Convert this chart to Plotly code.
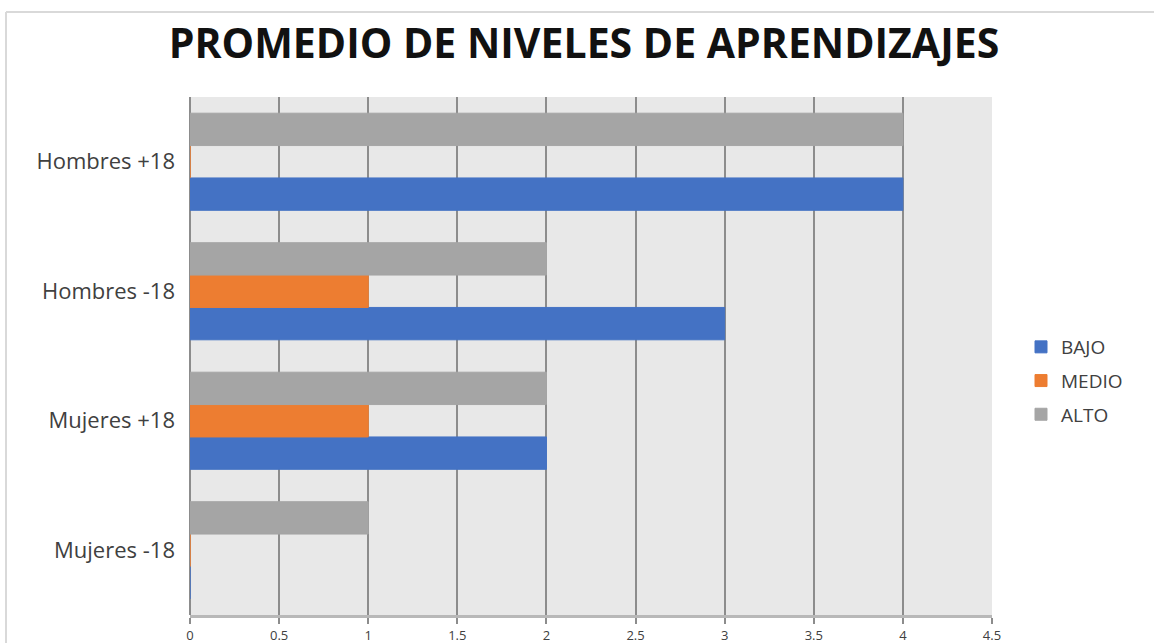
import plotly.graph_objects as go

categories = ["Mujeres -18", "Mujeres +18", "Hombres -18", "Hombres +18"]
bajo = [0, 2, 3, 4]
medio = [0, 1, 1, 0]
alto = [1, 2, 2, 4]
series_names = ["BAJO", "MEDIO", "ALTO"]
colors = ["#4472C4", "#ED7D31", "#A5A5A5"]
tick_vals = [0, 0.5, 1, 1.5, 2, 2.5, 3, 3.5, 4, 4.5]

FONT = "Open Sans"

fig = go.Figure()
for name, vals, col in zip(series_names, [bajo, medio, alto], colors):
    fig.add_trace(go.Bar(
        y=categories, x=vals, name=name, orientation="h", legendgroup=name,
        marker=dict(color=col, line=dict(color=col, width=1)),
    ))

fig.update_layout(
    width=1154, height=643,
    margin=dict(l=190, r=162, t=97, b=28, autoexpand=False),
    paper_bgcolor="white",
    plot_bgcolor="#E8E8E8",
    barmode="group", bargap=0.25, bargroupgap=0,
    font=dict(family=FONT, color="#404040", size=16),
    title=dict(text="<b>PROMEDIO DE NIVELES DE APRENDIZAJES</b>",
               x=(584 - 190) / 802, xref="paper", xanchor="center",
               y=1 - 44 / 643, yref="container", yanchor="middle",
               font=dict(family=FONT, size=41, color="#111111")),
    legend=dict(x=(1021 - 190) / 802, xanchor="left", y=1 - (381 - 97) / 518, yanchor="middle",
                font=dict(family=FONT, size=19, color="#404040"),
                itemwidth=30, bgcolor="rgba(0,0,0,0)",
                traceorder="grouped", tracegroupgap=6),
    showlegend=True,
)
fig.update_xaxes(range=[0, 4.5], tickvals=tick_vals, automargin=False,
                 showgrid=True, gridcolor="#8C8C8C", gridwidth=2,
                 zeroline=True, zerolinecolor="#8C8C8C", zerolinewidth=2,
                 showline=True, linecolor="#B8B8B8", linewidth=3,
                 ticks="outside", ticklen=6, tickcolor="#8C8C8C", tickwidth=2,
                 ticklabelstandoff=0,
                 tickfont=dict(size=13, color="#404040"))
fig.update_yaxes(categoryorder="array", categoryarray=categories, automargin=False,
                 showgrid=False, ticks="", ticklabelstandoff=14,
                 tickfont=dict(size=22, color="#404040"))

# outer chart border (top and left)
fig.add_shape(type="line", xref="paper", yref="paper",
              x0=(6 - 190) / 802, x1=(1160 - 190) / 802,
              y0=1 + (97 - 12) / 518, y1=1 + (97 - 12) / 518,
              line=dict(color="#D9D9D9", width=2), layer="below")
fig.add_shape(type="line", xref="paper", yref="paper",
              x0=(6 - 190) / 802, x1=(6 - 190) / 802,
              y0=1 + (97 - 12) / 518, y1=-0.2,
              line=dict(color="#D9D9D9", width=2), layer="below")

fig.write_html("out.html", config={"displayModeBar": False},
               post_script=["document.body.style.margin='0';"])
